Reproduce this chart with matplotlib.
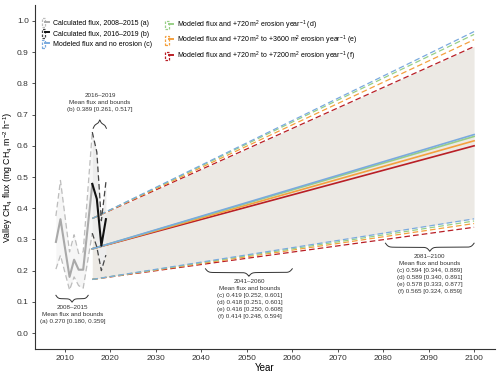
import numpy as np
import matplotlib
matplotlib.use('Agg')
import matplotlib.pyplot as plt
from matplotlib.patches import Patch
from matplotlib.lines import Line2D
from matplotlib.legend_handler import HandlerTuple

plt.rcParams['font.family'] = 'Liberation Sans'
plt.rcParams['mathtext.fontset'] = 'custom'
plt.rcParams['mathtext.rm'] = 'Liberation Sans'
plt.rcParams['mathtext.it'] = 'Liberation Sans:italic'
plt.rcParams['mathtext.default'] = 'regular'

# calculated flux 2008-2015 (a)
years_a = [2008, 2009, 2011, 2012, 2013, 2014, 2016]
mean_a = [0.292, 0.365, 0.180, 0.235, 0.203, 0.203, 0.476]
upper_a = [0.375, 0.489, 0.260, 0.315, 0.255, 0.260, 0.644]
lower_a = [0.205, 0.249, 0.138, 0.180, 0.152, 0.144, 0.320]

# calculated flux 2016-2019 (b)
years_b = [2016, 2017, 2018, 2019]
mean_b = [0.478, 0.430, 0.280, 0.365]
upper_b = [0.644, 0.580, 0.360, 0.484]
lower_b = [0.320, 0.276, 0.200, 0.250]

# modeled scenarios (c)-(f)
model_years = [2016, 2100]
mean_c = [0.270, 0.636]
upper_c = [0.367, 0.966]
lower_c = [0.172, 0.366]
mean_d = [0.270, 0.630]
upper_d = [0.367, 0.957]
lower_d = [0.172, 0.359]
mean_e = [0.270, 0.616]
upper_e = [0.367, 0.940]
lower_e = [0.172, 0.351]
mean_f = [0.270, 0.600]
upper_f = [0.367, 0.918]
lower_f = [0.172, 0.339]

col_a = '#a9a9a9'
col_b = '#111111'
scen = [
    ('c', mean_c, upper_c, lower_c, '#7aaade', 'Modeled flux and no erosion (c)'),
    ('d', mean_d, upper_d, lower_d, '#98cf86', 'Modeled flux and +720 m$^2$ erosion year$^{-1}$ (d)'),
    ('e', mean_e, upper_e, lower_e, '#f4a03e', 'Modeled flux and +720 m$^2$ to +3600 m$^2$ erosion year$^{-1}$ (e)'),
    ('f', mean_f, upper_f, lower_f, '#b91f26', 'Modeled flux and +720 m$^2$ to +7200 m$^2$ erosion year$^{-1}$ (f)'),
]

fig = plt.figure(figsize=(5, 3.74), dpi=100)
ax = fig.add_axes([0.070, 0.0677, 0.920, 0.918])


def brace(ax, x0, x1, y_arm, y_tip, k):
    u = np.linspace(0, 1, 120)
    half = 1 / (1 + np.exp(-k * u)) + 1 / (1 + np.exp(-k * (u - 1)))
    t = np.concatenate([half, half[-2::-1]]) - 0.5
    xs = np.linspace(x0, x1, len(t))
    ax.plot(xs, y_arm + t * (y_tip - y_arm), color='#333333', lw=0.7, zorder=6)


# ── shaded bands ──
ax.fill_between(model_years, lower_c, upper_f, color='#ece9e4', lw=0, zorder=1)
ax.fill_between(years_a, lower_a, upper_a, color='#f6f6f6', lw=0, zorder=1)
ax.fill_between(years_b, lower_b, upper_b, color='#ededed', lw=0, zorder=1.5)

# ── modeled (f drawn first so no-erosion ends on top) ──
dash = (0, (4.5, 2.5))
for key, m, up, lo, c, lab in scen[::-1]:
    ax.plot(model_years, up, color=c, lw=0.9, ls=dash, zorder=3)
    ax.plot(model_years, lo, color=c, lw=0.9, ls=dash, zorder=3)
    ax.plot(model_years, m, color=c, lw=1.2, zorder=4)

# ── calculated ──
ax.plot(years_a, upper_a, color='#bdbdbd', lw=0.9, ls=dash, zorder=4)
ax.plot(years_a, lower_a, color='#bdbdbd', lw=0.9, ls=dash, zorder=4)
ax.plot(years_a, mean_a, color=col_a, lw=1.5, zorder=5)
ax.plot(years_b, upper_b, color='#444444', lw=0.9, ls=dash, zorder=4)
ax.plot(years_b, lower_b, color='#444444', lw=0.9, ls=dash, zorder=4)
ax.plot(years_b, mean_b, color=col_b, lw=1.5, zorder=5)

# ── braces and summaries ──
txt = dict(ha='center', va='top', fontsize=4.5, color='#333333', linespacing=1.5)
brace(ax, 2008, 2015.1, 0.121, 0.099, 14)
ax.text(2011.6, 0.090, '2008–2015\nMean flux and bounds\n(a) 0.270 [0.180, 0.359]', **txt)

brace(ax, 2016.2, 2019.1, 0.656, 0.683, 7)
ax.text(2017.7, 0.768, '2016–2019\nMean flux and bounds\n(b) 0.389 [0.261, 0.517]', **txt)

brace(ax, 2040.9, 2060.0, 0.206, 0.182, 30)
ax.text(2050.6, 0.172, '2041–2060\nMean flux and bounds\n(c) 0.419 [0.252, 0.601]\n'
        '(d) 0.418 [0.251, 0.601]\n(e) 0.416 [0.250, 0.608]\n(f) 0.414 [0.248, 0.594]', **txt)

brace(ax, 2080.5, 2100, 0.288, 0.262, 30)
ax.text(2090.2, 0.254, '2081–2100\nMean flux and bounds\n(c) 0.594 [0.344, 0.889]\n'
        '(d) 0.589 [0.340, 0.891]\n(e) 0.578 [0.333, 0.877]\n(f) 0.565 [0.324, 0.859]', **txt)

# ── axes ──
ax.set_xlim(2003.4, 2104.6)
ax.set_ylim(-0.05, 1.05)
ax.set_xticks(np.arange(2010, 2101, 10))
ax.set_yticks(np.arange(0, 1.01, 0.1))
ax.set_yticklabels([f'{v:.1f}' for v in np.arange(0, 1.01, 0.1)])
for s in ['top', 'right']:
    ax.spines[s].set_visible(False)
for s in ['left', 'bottom']:
    ax.spines[s].set_color('#333333')
    ax.spines[s].set_linewidth(0.8)
ax.tick_params(labelsize=6, colors='#333333', length=2.5, width=0.6, pad=2)
ax.set_xlabel('Year', fontsize=7, labelpad=1)
ax.set_ylabel(r'Valley CH$_4$ flux $\left(mg\ CH_4\ m^{-2}\ h^{-1}\right)$', fontsize=6.3)
ax.yaxis.set_label_coords(-0.043, 0.5)


# ── legend ──
def key(c, lc):
    return (Patch(facecolor='white', edgecolor=c, linestyle=(0, (2, 1.2)), linewidth=0.9),
            Line2D([], [], color=lc, lw=1.4))


h1 = [key('#bdbdbd', col_a), key('#444444', col_b), key(scen[0][4], scen[0][4])]
l1 = ['Calculated flux, 2008–2015 (a)', 'Calculated flux, 2016–2019 (b)', scen[0][5]]
h2 = [key(s[4], s[4]) for s in scen[1:]]
l2 = [s[5] for s in scen[1:]]
lkw = dict(loc='upper left', frameon=False, fontsize=5, handlelength=1.1, handleheight=1.5,
           handletextpad=0.6, labelspacing=0.32, borderpad=0, borderaxespad=0,
           handler_map={tuple: HandlerTuple(ndivide=None)})
fig.legend(h1, l1, bbox_to_anchor=(0.083, 0.951), **lkw)
fig.legend(h2, l2, bbox_to_anchor=(0.330, 0.951), **lkw)

fig.savefig('out.png', dpi=100)
